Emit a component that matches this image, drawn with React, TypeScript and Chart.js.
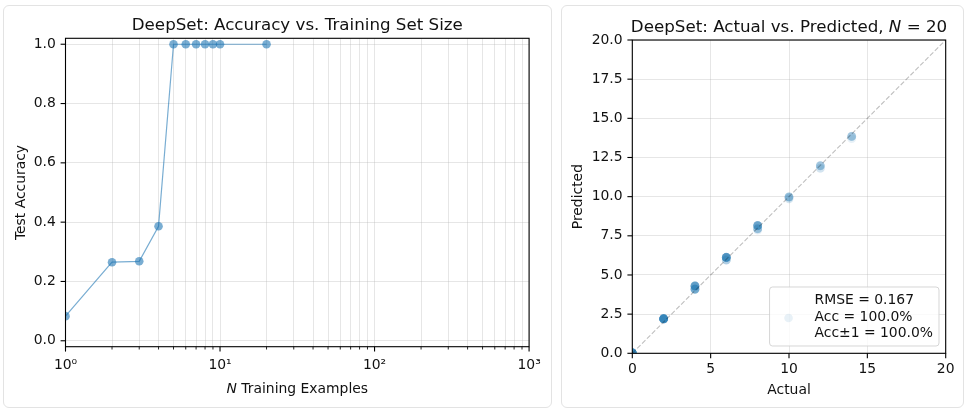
import React, { useEffect, useRef } from 'react';
import { Chart, registerables } from 'chart.js';

Chart.register(...registerables);

// ---------- data ----------
const N_TRAIN = [1, 2, 3, 4, 5, 6, 7, 8, 9, 10, 20];
const TEST_ACC = [0.083, 0.265, 0.268, 0.386, 1.0, 1.0, 1.0, 1.0, 1.0, 1.0, 1.0];
const X_MAJOR_TICKS = [1, 10, 100, 1000];
const X_MAJOR_LABELS = ['10⁰', '10¹', '10²', '10³'];
const X_MINOR_TICKS = [2, 3, 4, 5, 6, 7, 8, 9, 20, 30, 40, 50, 60, 70, 80, 90, 200, 300, 400, 500, 600, 700, 800, 900];
const Y_ACC_TICKS = [0, 0.2, 0.4, 0.6, 0.8, 1.0];

const ACTUAL_VALUES = [0, 2, 4, 6, 8, 10, 12, 14];
const PREDICTED_BY_ACTUAL = [
  [0.02, 0.03, 0.01, 0.04, 0.02, 0.03, 0.05, 0.02, 0.01, 0.03, 0.02, 0.04, 0.03, 0.02, 0.01, 0.03, 0.02, 0.04, 0.03, 0.02],
  [2.2, 2.21, 2.19, 2.22, 2.2, 2.18, 2.21, 2.2, 2.23, 2.19, 2.2, 2.21, 2.22, 2.2, 2.19, 2.2, 2.21, 2.2, 2.18, 2.22],
  [4.3, 4.28, 4.31, 4.29, 4.3, 4.32, 4.27, 4.3, 4.29, 4.31, 4.3, 4.1, 4.08, 4.11, 4.09, 4.1, 4.12, 4.07, 4.1, 4.09],
  [6.12, 6.13, 6.11, 6.14, 6.12, 6.1, 6.13, 6.12, 6.11, 6.14, 6.12, 6.13, 6.11, 6.12, 5.96, 5.95, 5.97, 5.94],
  [8.15, 8.17, 8.14, 8.16, 8.15, 8.13, 8.16, 8.15, 8.14, 8.17, 7.95, 7.93, 7.96, 7.94, 7.95, 7.86],
  [9.98, 9.97, 9.99, 9.98, 9.96, 9.98, 9.87, 9.85],
  [11.97, 11.98, 11.96, 11.97, 11.99, 11.82, 11.8],
  [13.85, 13.84, 13.86, 13.85, 13.83, 13.7],
];
const ACTUAL_TICKS = [0, 5, 10, 15, 20];
const PRED_TICKS = [0, 2.5, 5, 7.5, 10, 12.5, 15, 17.5, 20];
const IDENTITY_LINE = [0, 20];
const LEGEND_LINES = ['RMSE = 0.167', 'Acc = 100.0%', 'Acc±1 = 100.0%'];

// ---------- styles ----------
const FONT = "'DejaVu Sans', 'Liberation Sans', sans-serif";
const TEXT = '#111111';
const GRID = 'rgba(176,176,176,0.32)';
const BLUE_LINE = 'rgba(31,119,180,0.6)';
const BLUE_SCATTER = 'rgba(31,119,180,0.1)';
const TICK_SIZE = 13.9;
const LABEL_SIZE = 13.9;
const TITLE_SIZE = 16.7;

type Seg = { text: string; italic?: boolean };

function fnt(size: number, italic?: boolean) {
  return `${italic ? 'italic ' : ''}${size}px ${FONT}`;
}

function drawSegs(ctx: CanvasRenderingContext2D, segs: Seg[], size: number, x: number, y: number, rotate = false) {
  ctx.save();
  ctx.translate(x, y);
  if (rotate) ctx.rotate(-Math.PI / 2);
  ctx.textBaseline = 'alphabetic';
  ctx.textAlign = 'left';
  ctx.fillStyle = TEXT;
  let total = 0;
  const widths = segs.map((s) => {
    ctx.font = fnt(size, s.italic);
    const w = ctx.measureText(s.text).width;
    total += w;
    return w;
  });
  let cx = -total / 2;
  segs.forEach((s, i) => {
    ctx.font = fnt(size, s.italic);
    ctx.fillText(s.text, cx, 0);
    cx += widths[i];
  });
  ctx.restore();
}

function drawTickMarks(chart: any, id: string, majors: number[] | null) {
  const scale = chart.scales[id];
  const a = chart.chartArea;
  const ctx: CanvasRenderingContext2D = chart.ctx;
  ctx.save();
  ctx.strokeStyle = '#000';
  scale.ticks.forEach((t: any) => {
    const isMajor = !majors || majors.includes(t.value);
    const len = isMajor ? 4.9 : 2.8;
    ctx.lineWidth = isMajor ? 1.1 : 0.85;
    const p = scale.getPixelForValue(t.value);
    ctx.beginPath();
    if (scale.isHorizontal()) {
      ctx.moveTo(p, a.bottom);
      ctx.lineTo(p, a.bottom + len);
    } else {
      ctx.moveTo(a.left, p);
      ctx.lineTo(a.left - len, p);
    }
    ctx.stroke();
  });
  ctx.restore();
}

const decorPlugin = {
  id: 'decor',
  afterDatasetsDraw(chart: any, _args: any, opts: any) {
    const ctx: CanvasRenderingContext2D = chart.ctx;
    const a = chart.chartArea;
    drawTickMarks(chart, 'x', opts.xMajors || null);
    drawTickMarks(chart, 'y', null);
    ctx.save();
    ctx.strokeStyle = '#000';
    ctx.lineWidth = 1.1;
    ctx.strokeRect(a.left, a.top, a.right - a.left, a.bottom - a.top);
    ctx.restore();
  },
  afterDraw(chart: any, _args: any, opts: any) {
    const ctx: CanvasRenderingContext2D = chart.ctx;
    const a = chart.chartArea;
    const cx = (a.left + a.right) / 2;
    const cy = (a.top + a.bottom) / 2;
    drawSegs(ctx, opts.title, TITLE_SIZE, cx, a.top - opts.titleGap);
    drawSegs(ctx, opts.xLabel, LABEL_SIZE, cx, a.bottom + opts.xLabelGap);
    drawSegs(ctx, opts.yLabel, LABEL_SIZE, a.left - opts.yLabelGap, cy, true);
    if (opts.legend) {
      const lines: string[] = opts.legend;
      ctx.save();
      ctx.font = fnt(LABEL_SIZE);
      const tw = Math.max(...lines.map((l) => ctx.measureText(l).width));
      const boxW = 45 + tw + 6;
      const boxH = 59;
      const right = a.right - 6.7;
      const bottom = a.bottom - 7.3;
      const left = right - boxW;
      const top = bottom - boxH;
      ctx.beginPath();
      (ctx as any).roundRect(left, top, boxW, boxH, 3);
      ctx.fillStyle = 'rgba(255,255,255,0.8)';
      ctx.fill();
      ctx.strokeStyle = 'rgba(204,204,204,0.8)';
      ctx.lineWidth = 1;
      ctx.stroke();
      ctx.beginPath();
      ctx.arc(left + 19, top + 31, 4.3, 0, Math.PI * 2);
      ctx.fillStyle = BLUE_SCATTER;
      ctx.fill();
      ctx.fillStyle = TEXT;
      ctx.textAlign = 'left';
      ctx.textBaseline = 'alphabetic';
      lines.forEach((l, i) => ctx.fillText(l, left + 45, top + 17.3 + i * 16.2));
      ctx.restore();
    }
  },
};

function LeftChart() {
  const ref = useRef<HTMLCanvasElement>(null);
  useEffect(() => {
    if (!ref.current) return;
    const chart = new Chart(ref.current, {
      type: 'scatter',
      data: {
        datasets: [
          {
            data: N_TRAIN.map((x, i) => ({ x, y: TEST_ACC[i] })),
            showLine: true,
            borderColor: BLUE_LINE,
            borderWidth: 1.2,
            backgroundColor: BLUE_LINE,
            pointBackgroundColor: BLUE_LINE,
            pointBorderColor: 'rgba(0,0,0,0)',
            pointBorderWidth: 0,
            pointRadius: 4.3,
            pointHoverRadius: 4.3,
            tension: 0,
            clip: 0,
          } as any,
        ],
      },
      options: {
        animation: false,
        responsive: false,
        events: [],
        layout: { padding: { left: 11.5, right: 21, top: 32.3, bottom: 20.3 } },
        scales: {
          x: {
            type: 'logarithmic',
            min: 1,
            max: 1000,
            afterBuildTicks: (scale: any) => {
              scale.ticks = [...X_MAJOR_TICKS, ...X_MINOR_TICKS]
                .sort((p, q) => p - q)
                .map((v) => ({ value: v }));
            },
            afterFit: (scale: any) => {
              scale.height = 40;
            },
            ticks: {
              autoSkip: false,
              maxRotation: 0,
              minRotation: 0,
              padding: 10.3,
              color: TEXT,
              font: { family: FONT, size: TICK_SIZE },
              callback: (value: any) => {
                const i = X_MAJOR_TICKS.indexOf(Number(value));
                return i >= 0 ? X_MAJOR_LABELS[i] : '';
              },
            },
            grid: { color: GRID, lineWidth: 1, drawTicks: false },
            border: { display: false },
          },
          y: {
            type: 'linear',
            min: -0.02,
            max: 1.02,
            afterBuildTicks: (scale: any) => {
              scale.ticks = Y_ACC_TICKS.map((v) => ({ value: v }));
            },
            afterFit: (scale: any) => {
              scale.width = 50;
            },
            ticks: {
              padding: 9.7,
              color: TEXT,
              font: { family: FONT, size: TICK_SIZE },
              callback: (value: any) => Number(value).toFixed(1),
            },
            grid: { color: GRID, lineWidth: 1, drawTicks: false },
            border: { display: false },
          },
        },
        plugins: {
          legend: { display: false },
          tooltip: { enabled: false },
          title: { display: false },
          decor: {
            title: [{ text: 'DeepSet: Accuracy vs. Training Set Size' }],
            titleGap: 8.3,
            xLabel: [{ text: 'N', italic: true }, { text: ' Training Examples' }],
            xLabelGap: 46.6,
            yLabel: [{ text: 'Test Accuracy' }],
            yLabelGap: 40.5,
            xMajors: X_MAJOR_TICKS,
          },
        } as any,
      },
      plugins: [decorPlugin as any],
    });
    return () => chart.destroy();
  }, []);
  return <canvas ref={ref} width={547} height={401} style={{ display: 'block', width: 547, height: 401 }} />;
}

function RightChart() {
  const ref = useRef<HTMLCanvasElement>(null);
  useEffect(() => {
    if (!ref.current) return;
    const points = ACTUAL_VALUES.flatMap((a, i) => PREDICTED_BY_ACTUAL[i].map((p) => ({ x: a, y: p })));
    const chart = new Chart(ref.current, {
      type: 'scatter',
      data: {
        datasets: [
          {
            data: IDENTITY_LINE.map((v) => ({ x: v, y: v })),
            showLine: true,
            borderColor: 'rgba(0,0,0,0.25)',
            borderWidth: 1.1,
            borderDash: [4.8, 2.1],
            pointRadius: 0,
            pointHoverRadius: 0,
            order: 0,
            clip: 0,
          } as any,
          {
            data: points,
            backgroundColor: BLUE_SCATTER,
            pointBackgroundColor: BLUE_SCATTER,
            pointBorderColor: 'rgba(0,0,0,0)',
            pointBorderWidth: 0,
            pointRadius: 4.4,
            pointHoverRadius: 4.4,
            order: 1,
            clip: 0,
          } as any,
        ],
      },
      options: {
        animation: false,
        responsive: false,
        events: [],
        layout: { padding: { left: 15.3, right: 17.3, top: 34, bottom: 13.7 } },
        scales: {
          x: {
            type: 'linear',
            min: 0,
            max: 20,
            afterBuildTicks: (scale: any) => {
              scale.ticks = ACTUAL_TICKS.map((v) => ({ value: v }));
            },
            afterFit: (scale: any) => {
              scale.height = 40;
            },
            ticks: {
              autoSkip: false,
              maxRotation: 0,
              minRotation: 0,
              padding: 7.9,
              color: TEXT,
              font: { family: FONT, size: TICK_SIZE },
              callback: (value: any) => String(Number(value)),
            },
            grid: { color: GRID, lineWidth: 1, drawTicks: false },
            border: { display: false },
          },
          y: {
            type: 'linear',
            min: 0,
            max: 20,
            afterBuildTicks: (scale: any) => {
              scale.ticks = PRED_TICKS.map((v) => ({ value: v }));
            },
            afterFit: (scale: any) => {
              scale.width = 55;
            },
            ticks: {
              padding: 9.7,
              color: TEXT,
              font: { family: FONT, size: TICK_SIZE },
              callback: (value: any) => Number(value).toFixed(1),
            },
            grid: { color: GRID, lineWidth: 1, drawTicks: false },
            border: { display: false },
          },
        },
        plugins: {
          legend: { display: false },
          tooltip: { enabled: false },
          title: { display: false },
          decor: {
            title: [{ text: 'DeepSet: Actual vs. Predicted, ' }, { text: 'N', italic: true }, { text: ' = 20' }],
            titleGap: 8.3,
            xLabel: [{ text: 'Actual' }],
            xLabelGap: 41,
            yLabel: [{ text: 'Predicted' }],
            yLabelGap: 50,
            legend: LEGEND_LINES,
          },
        } as any,
      },
      plugins: [decorPlugin as any],
    });
    return () => chart.destroy();
  }, []);
  return <canvas ref={ref} width={401} height={401} style={{ display: 'block', width: 401, height: 401 }} />;
}

const cardStyle: React.CSSProperties = {
  position: 'absolute',
  top: 5,
  height: 403,
  border: '1px solid #e3e3e3',
  borderRadius: 6,
  boxSizing: 'border-box',
  background: '#fff',
  overflow: 'hidden',
};

export default function App() {
  return (
    <div style={{ position: 'absolute', left: 0, top: 0, width: 967, height: 409, background: '#fff' }}>
      <div style={{ ...cardStyle, left: 3, width: 549 }}>
        <LeftChart />
      </div>
      <div style={{ ...cardStyle, left: 561, width: 403 }}>
        <RightChart />
      </div>
    </div>
  );
}
